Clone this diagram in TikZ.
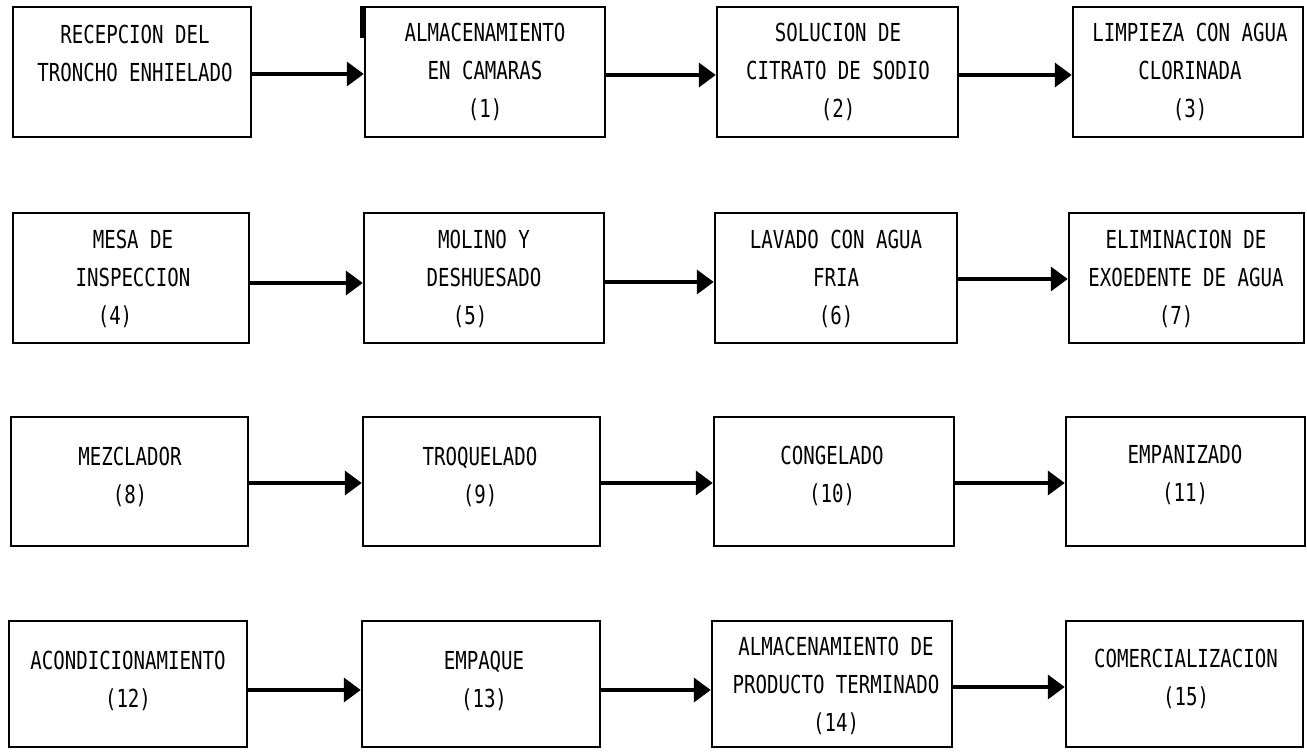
\documentclass[tikz,border=0pt]{standalone}
\usepackage{fontspec}
\newfontfamily\boxfont[FakeStretch=0.77]{DejaVu Sans Mono}
\usetikzlibrary{arrows.meta}
\begin{document}
\begin{tikzpicture}[x=1pt,y=-1pt,
  stage/.style={draw, line width=2.5pt, rectangle, inner sep=0pt},
  lbl/.style={align=center, font=\boxfont\fontsize{24.8}{38}\selectfont, inner sep=0pt},
  flow/.style={line width=3.8pt, -{Triangle[length=17pt 0, width=24pt 0]}}]
\useasboundingbox (0,0) rectangle (1307,752);
% row 1
\node[stage, minimum width=238pt, minimum height=130pt] (b0) at (132,72) {};
\node[stage, minimum width=240pt, minimum height=130pt] (b1) at (485,72) {};
\node[stage, minimum width=241pt, minimum height=130pt] (b2) at (837.5,72) {};
\node[stage, minimum width=230pt, minimum height=130pt] (b3) at (1188,72) {};
% row 2
\node[stage, minimum width=236pt, minimum height=130pt] (b4) at (131,278) {};
\node[stage, minimum width=240pt, minimum height=130pt] (b5) at (484,278) {};
\node[stage, minimum width=242pt, minimum height=130pt] (b6) at (836,278) {};
\node[stage, minimum width=235pt, minimum height=130pt] (b7) at (1186.5,278) {};
% row 3
\node[stage, minimum width=237pt, minimum height=129pt] (b8) at (129.5,481.5) {};
\node[stage, minimum width=237pt, minimum height=129pt] (b9) at (481.5,481.5) {};
\node[stage, minimum width=240pt, minimum height=129pt] (b10) at (834,481.5) {};
\node[stage, minimum width=239pt, minimum height=129pt] (b11) at (1185.5,481.5) {};
% row 4
\node[stage, minimum width=238pt, minimum height=126pt] (b12) at (128,684) {};
\node[stage, minimum width=238pt, minimum height=126pt] (b13) at (481,684) {};
\node[stage, minimum width=240pt, minimum height=126pt] (b14) at (832,684) {};
\node[stage, minimum width=237pt, minimum height=126pt] (b15) at (1184.5,684) {};
% scan mark on box 1
\draw[line width=5pt] ([xshift=-1.5pt]b1.north west) -- ++(0,32);
% labels
\node[lbl] (t0) at (135,53.5) {RECEPCION DEL\\TRONCHO ENHIELADO};
\node[lbl] (t1) at (485,72) {ALMACENAMIENTO\\EN CAMARAS\\(1)};
\node[lbl] (t2) at (838,72) {SOLUCION DE\\CITRATO DE SODIO\\(2)};
\node[lbl] (t3) at (1190,72) {LIMPIEZA CON AGUA\\CLORINADA\\(3)};
\node[lbl] (t4) at (133,279) {MESA DE\\INSPECCION\\\hspace*{-36pt}(4)};
\node[lbl] (t5) at (484,279) {MOLINO Y\\DESHUESADO\\\hspace*{-28pt}(5)};
\node[lbl] (t6) at (836,279) {LAVADO CON AGUA\\FRIA\\(6)};
\node[lbl] (t7) at (1186,279) {ELIMINACION DE\\EXOEDENTE DE AGUA\\\hspace*{-20pt}(7)};
\node[lbl] (t8) at (130,477) {MEZCLADOR\\(8)};
\node[lbl] (t9) at (480,477) {TROQUELADO\\(9)};
\node[lbl] (t10) at (832,476) {CONGELADO\\(10)};
\node[lbl] (t11) at (1185,475) {EMPANIZADO\\(11)};
\node[lbl] (t12) at (128,681) {ACONDICIONAMIENTO\\(12)};
\node[lbl] (t13) at (484,681) {EMPAQUE\\(13)};
\node[lbl] (t14) at (836,686) {ALMACENAMIENTO DE\\PRODUCTO TERMINADO\\(14)};
\node[lbl] (t15) at (1186,679) {COMERCIALIZACION\\(15)};
% arrows
\draw[flow] (b0.east |- 0,74) -- (b1.west |- 0,74);
\draw[flow] (b1.east |- 0,75) -- (b2.west |- 0,75);
\draw[flow] (b2.east |- 0,75) -- (b3.west |- 0,75);
\draw[flow] (b4.east |- 0,283) -- (b5.west |- 0,283);
\draw[flow] (b5.east |- 0,282) -- (b6.west |- 0,282);
\draw[flow] (b6.east |- 0,279) -- (b7.west |- 0,279);
\draw[flow] (b8.east |- 0,483) -- (b9.west |- 0,483);
\draw[flow] (b9.east |- 0,483) -- (b10.west |- 0,483);
\draw[flow] (b10.east |- 0,483) -- (b11.west |- 0,483);
\draw[flow] (b12.east |- 0,690) -- (b13.west |- 0,690);
\draw[flow] (b13.east |- 0,690) -- (b14.west |- 0,690);
\draw[flow] (b14.east |- 0,687) -- (b15.west |- 0,687);
\end{tikzpicture}
\end{document}
